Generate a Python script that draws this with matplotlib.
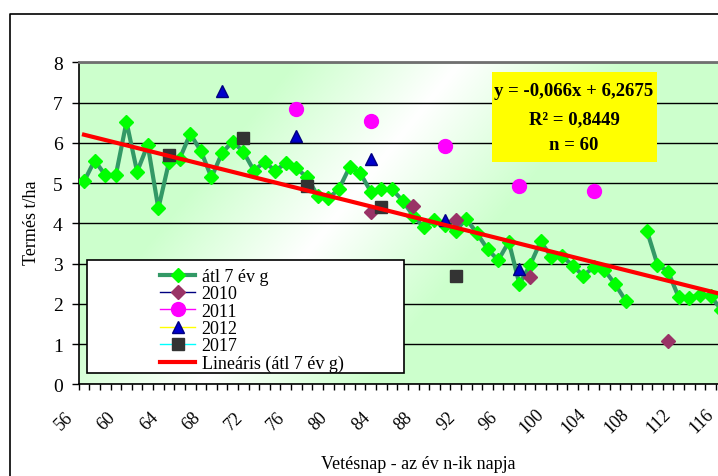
import numpy as np
import matplotlib
matplotlib.use("Agg")
import matplotlib.pyplot as plt
import matplotlib.transforms as mtransforms
from matplotlib.patches import Rectangle
from matplotlib.lines import Line2D

plt.rcParams['font.family'] = ['Liberation Serif', 'DejaVu Serif']

# --- data -------------------------------------------------------------
days = np.arange(56, 117)

atl7 = [5.04, 5.56, 5.20, 5.20, 6.52, 5.28, 5.95, 4.37, 5.52, 5.60,
        6.22, 5.80, 5.14, 5.75, 6.03, 5.78, 5.31, 5.52, 5.31, 5.49,
        5.37, 5.14, 4.69, 4.62, 4.85, 5.39, 5.25, 4.79, 4.85, 4.85,
        4.56, 4.19, 3.90, 4.09, 3.97, 3.82, 4.11, 3.75, 3.36, 3.08,
        3.54, 2.49, 2.96, 3.55, 3.17, 3.19, 2.95, 2.70, 2.91, 2.84,
        2.49, 2.08, np.nan, 3.82, 2.97, 2.80, 2.16, 2.14, 2.23, 2.20,
        1.85]

days_2010 = [83, 87, 91, 98, 111]
vals_2010 = [4.29, 4.42, 4.08, 2.67, 1.08]
days_2011 = [76, 83, 90, 97, 104]
vals_2011 = [6.84, 6.55, 5.93, 4.93, 4.81]
days_2012 = [69, 76, 83, 90, 97]
vals_2012 = [7.29, 6.18, 5.60, 4.09, 2.86]
days_2017 = [64, 71, 77, 84, 91]
vals_2017 = [5.70, 6.11, 4.93, 4.40, 2.68]

slope, intercept = -0.066, 6.2675
eq_lines = ["y = -0,066x + 6,2675", "R² = 0,8449", "n = 60"]


def on_days(d, v):
    out = np.full(len(days), np.nan)
    for di, vi in zip(d, v):
        out[di - days[0]] = vi
    return out


W, H = 718, 477
fig = plt.figure(figsize=(W / 100, H / 100), dpi=100)
fig.patch.set_facecolor('white')


def px(x, y):
    return x / W, 1 - y / H


# the plot area runs a little past the right edge of the picture (cropped chart)
step = 10.62
ax_l, ax_t, ax_b = 78.7, 63.3, 385.3
ax_r = ax_l + len(days) * step
ax = fig.add_axes([ax_l / W, 1 - ax_b / H, (ax_r - ax_l) / W, (ax_b - ax_t) / H])

# gradient background (light green with white diagonal band)
xs = np.arange(ax_l, ax_r, 1.0)
ys = np.arange(ax_t, ax_b, 1.0)
XX, YY = np.meshgrid(xs, ys)
dist = ((XX - 330) * 1.24 + (YY - 224)) / np.hypot(1.24, 1)
f = np.clip(np.abs(dist) / 130, 0, 1)[..., None]
green = np.array([204, 255, 204]) / 255
img = (1 - f) * np.ones(3) + f * green
ax.imshow(img, extent=[0, 1, 0, 1], transform=ax.transAxes, aspect='auto',
          zorder=0, interpolation='bilinear')

# series
ax.plot(days, atl7, color='#339966', lw=3, marker='D', ms=7.5,
        mfc='#00ff00', mec='#00ff00', zorder=3, label='átl 7 év g')
ax.plot(days, on_days(days_2010, vals_2010), color='#000080', lw=1,
        marker='D', ms=7, mfc='#993366', mec='#993366', zorder=3, label='2010')
ax.plot(days, on_days(days_2011, vals_2011), color='#ff00ff', lw=1,
        marker='o', ms=10, mfc='#ff00ff', mec='#ff00ff', zorder=3, label='2011')
ax.plot(days, on_days(days_2012, vals_2012), color='#ffff00', lw=1,
        marker='^', ms=9, mfc='#0000cc', mec='#000080', zorder=3, label='2012')
ax.plot(days, on_days(days_2017, vals_2017), color='#00ffff', lw=1,
        marker='s', ms=9, mfc='#333333', mec='#333333', zorder=3, label='2017')

idx = np.arange(1, len(days) + 1)
ax.plot(days, slope * idx + intercept, color='#ff0000', lw=3, zorder=4,
        label='Lineáris (átl 7 év g)')

ax.set_yticks(range(0, 9))
ax.yaxis.grid(True, color='black', lw=1)
ax.set_axisbelow(True)
ax.tick_params(axis='y', direction='out', length=5, width=1, pad=6.5,
               labelsize=14)

ax.set_xticks(np.arange(56, 117, 4))
ax.set_xticks(np.arange(55.5, 117, 1), minor=True)
ax.tick_params(axis='x', which='major', length=0, pad=26, labelsize=13)
ax.tick_params(axis='x', which='minor', direction='out', length=4.5, width=1)
for lab in ax.get_xticklabels():
    lab.set_rotation(45)
    lab.set_rotation_mode('anchor')
    lab.set_ha('center')
    lab.set_va('center')
    lab.set_transform(lab.get_transform() +
                      mtransforms.ScaledTranslation(-0.20, 0, fig.dpi_scale_trans))

# limits after ticks so the tick lists do not widen the view
ax.set_xlim(days[0] - 0.5, days[-1] + 0.5)
ax.set_ylim(0, 8)

for s in ['left', 'bottom']:
    ax.spines[s].set_color('black')
    ax.spines[s].set_linewidth(1.2)
ax.spines['right'].set_visible(False)
ax.spines['top'].set_color('#707070')
ax.spines['top'].set_linewidth(2)

# legend frame + legend
lx0, ly0 = px(87, 374)
lx1, ly1 = px(404, 261)
ax.add_patch(Rectangle((lx0, ly0), lx1 - lx0, ly1 - ly0, transform=fig.transFigure,
                       facecolor='white', edgecolor='black', lw=1.2, zorder=4.5))
leg = ax.legend(loc='upper left', bbox_to_anchor=px(160, 269),
                bbox_transform=fig.transFigure, frameon=False, fontsize=13,
                borderpad=0, borderaxespad=0, labelspacing=0.02,
                handlelength=1.95, handletextpad=0.35, numpoints=1)
leg.set_zorder(6)

# equation box
bx0, by0 = px(491.7, 162.7)
bx1, by1 = px(656.7, 73.3)
fig.patches.append(Rectangle((bx0, by0), bx1 - bx0, by1 - by0,
                             transform=fig.transFigure, facecolor='#ffff00',
                             edgecolor='none', zorder=5))
for line, yy in zip(eq_lines, [92, 120, 146]):
    fig.text(*px(574, yy), line, ha='center', va='center', fontsize=13.5,
             fontweight='bold', zorder=6)

# axis titles
fig.text(*px(32, 223), 'Termés t/ha', rotation=90, ha='center', va='center',
         fontsize=13)
fig.text(*px(418, 465), 'Vetésnap - az év n-ik napja', ha='center',
         va='center', fontsize=13)

# outer chart frame
fig.add_artist(Line2D([10 / W, 10 / W, 1.0], [0, 1 - 15 / H, 1 - 15 / H],
                      transform=fig.transFigure, color='black', lw=1.2))

fig.savefig('out.png', dpi=100)
